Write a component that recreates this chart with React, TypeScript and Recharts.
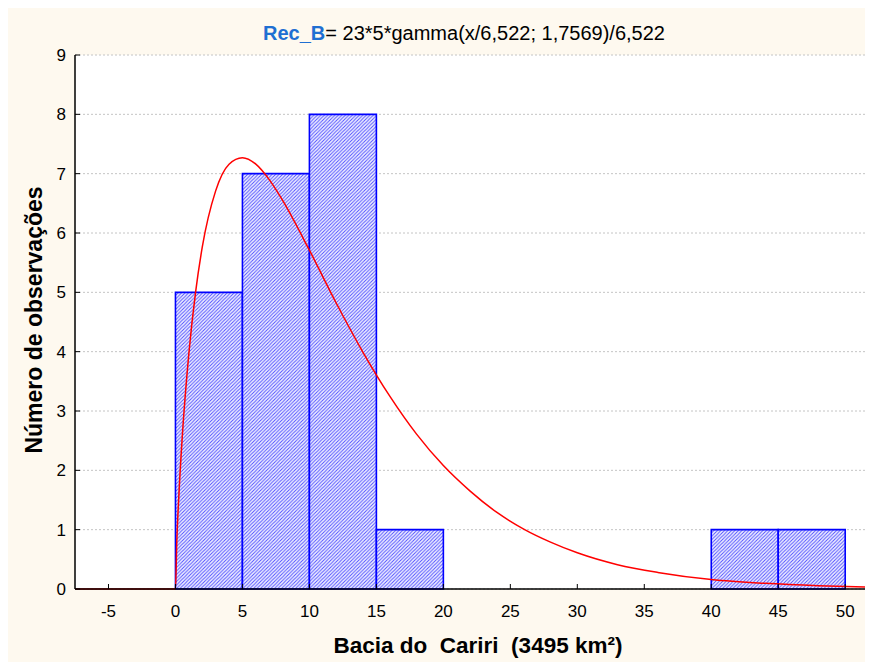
import React from 'react';
import {
  ComposedChart,
  Line,
  XAxis,
  YAxis,
  CartesianGrid,
  ReferenceArea,
} from 'recharts';

// Histogram bins (Bacia do Cariri)
const binStart = [0, 5, 10, 15, 40, 45];
const binEnd = [5, 10, 15, 20, 45, 50];
const binCount = [5, 7, 8, 1, 1, 1];

// Fitted gamma curve
const curveX = [-7.5, 0, 0.1, 0.25, 0.5, 1, 1.5, 2, 3, 4, 5, 6, 7, 8, 10, 12, 14, 16, 18, 20, 22, 24, 26, 28, 30, 33, 36, 40, 44, 48, 52];
const curveY = [0, 0, 0.8, 1.56, 2.54, 3.97, 5.0, 5.76, 6.71, 7.16, 7.27, 7.16, 6.9, 6.55, 5.71, 4.82, 3.99, 3.25, 2.61, 2.08, 1.65, 1.29, 1.01, 0.79, 0.61, 0.41, 0.28, 0.16, 0.095, 0.055, 0.032];

const xTicks = [-5, 0, 5, 10, 15, 20, 25, 30, 35, 40, 45, 50];
const yTicks = [0, 1, 2, 3, 4, 5, 6, 7, 8, 9];

const titleName = 'Rec_B';
const titleFormula = '= 23*5*gamma(x/6,522; 1,7569)/6,522';
const xLabel = 'Bacia do  Cariri  (3495 km²)';
const yLabel = 'Número de observações';

const curveData = curveX.map((x, i) => ({ x, y: curveY[i] }));

const FONT = '"Liberation Sans", Arial, sans-serif';

export default function App() {
  return (
    <div style={{ width: 865, height: 654, background: '#FEF9EF' }}>
      <ComposedChart
        width={865}
        height={654}
        data={curveData}
        margin={{ top: 47, right: 1, left: 0, bottom: 0 }}
        style={{ fontFamily: FONT }}
      >
        <defs>
          <pattern id="hatch" patternUnits="userSpaceOnUse" width="3.5" height="3.5">
            <rect x="0" y="0" width="3.5" height="3.5" fill="#f4f4ff" />
            <path d="M-1,1 L1,-1 M0,3.5 L3.5,0 M2.5,4.5 L4.5,2.5" stroke="#5050ff" strokeWidth="1" />
          </pattern>
        </defs>
        <CartesianGrid
          horizontal
          vertical={false}
          fill="#ffffff"
          stroke="#c4c4c4"
          strokeDasharray="2 2"
        />
        <XAxis
          dataKey="x"
          type="number"
          domain={[-7.5, 52]}
          ticks={xTicks}
          allowDataOverflow
          height={73}
          tickSize={-5}
          tickMargin={21}
          tick={{ fill: '#000', fontSize: 17, fontFamily: FONT }}
          axisLine={{ stroke: '#000', strokeWidth: 1.5 }}
          tickLine={{ stroke: '#000' }}
        />
        <XAxis
          xAxisId="top"
          orientation="top"
          dataKey="x"
          type="number"
          domain={[-7.5, 52]}
          ticks={xTicks}
          allowDataOverflow
          height={0}
          tickSize={-5}
          tick={false}
          axisLine={{ stroke: '#000', strokeWidth: 1.5 }}
          tickLine={{ stroke: '#000' }}
        />
        <YAxis
          type="number"
          domain={[0, 9]}
          ticks={yTicks}
          width={67}
          tickSize={-5}
          tickMargin={14}
          tick={{ fill: '#000', fontSize: 17, fontFamily: FONT }}
          axisLine={{ stroke: '#000', strokeWidth: 1.5 }}
          tickLine={{ stroke: '#000' }}
        />
        {binStart.map((s, i) => (
          <ReferenceArea
            key={i}
            x1={s}
            x2={binEnd[i]}
            y1={0}
            y2={binCount[i]}
            fill="url(#hatch)"
            fillOpacity={1}
            stroke="#0000ff"
            strokeWidth={1.6}
          />
        ))}
        <Line
          type="monotone"
          dataKey="y"
          stroke="#ff0000"
          strokeWidth={1.5}
          dot={false}
          activeDot={false}
          isAnimationActive={false}
        />
        <text x={255} y={32} fontSize={20} fontFamily={FONT} fill="#000">
          <tspan fill="#1f6fd2" fontWeight="bold">{titleName}</tspan>
          <tspan>{titleFormula}</tspan>
        </text>
        <text
          x={470}
          y={645}
          textAnchor="middle"
          fontSize={22.5}
          fontWeight="bold"
          fontFamily={FONT}
          fill="#000"
          style={{ whiteSpace: 'pre' }}
        >
          {xLabel}
        </text>
        <text
          transform="translate(34,312) rotate(-90)"
          textAnchor="middle"
          fontSize={23}
          fontWeight="bold"
          fontFamily={FONT}
          fill="#000"
        >
          {yLabel}
        </text>
      </ComposedChart>
    </div>
  );
}
